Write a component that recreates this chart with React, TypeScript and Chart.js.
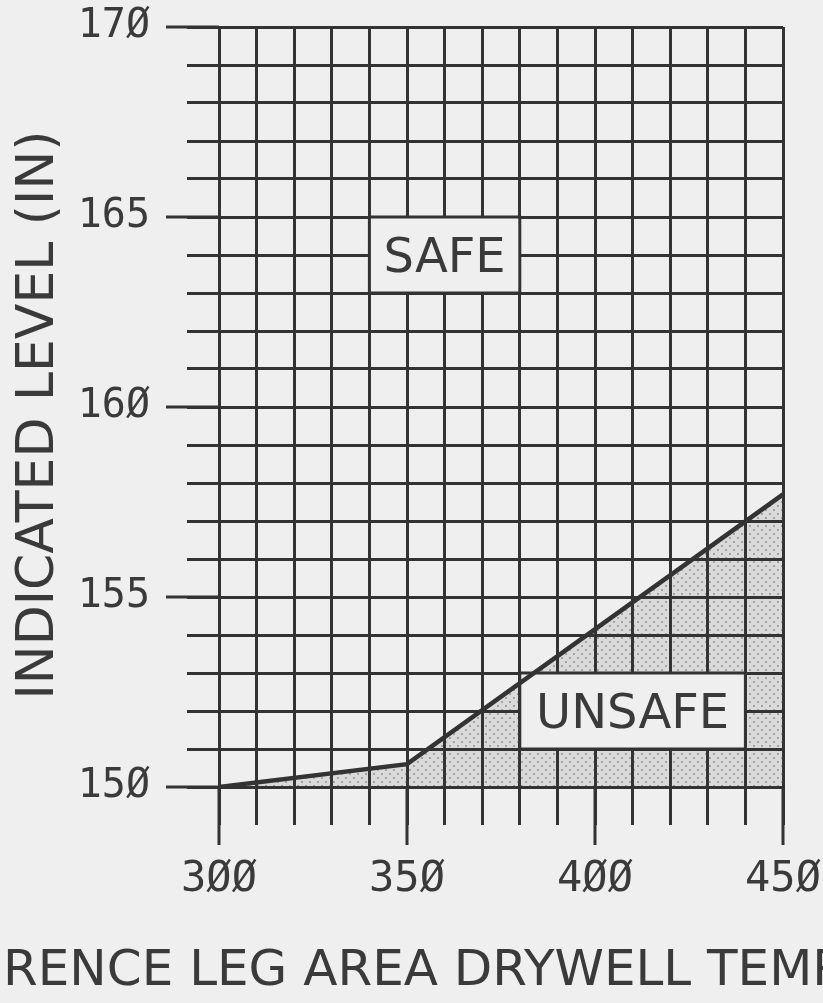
import React, { useEffect, useRef } from 'react';
import { Chart, registerables } from 'chart.js';

Chart.register(...registerables);

// ---- data ----
const temperatures = [300, 350, 450];
const levels = [150, 150.6, 157.7];

const xMin = 300;
const xMax = 450;
const xStep = 10;
const yMin = 150;
const yMax = 170;
const yStep = 1;

const xLabeledTicks = [300, 350, 400, 450];
const yLabeledTicks = [150, 155, 160, 165, 170];

const regionNames = ['SAFE', 'UNSAFE'];
// [xFrom, xTo, yFrom, yTo] in data units
const regionBoxes = [
  [340, 380, 163, 165],
  [380, 440, 151, 153],
];

const yTitle = 'INDICATED LEVEL (IN)';
const xTitle = 'REFERENCE LEG AREA DRYWELL TEMP (°F)';
const xTitleHiddenPrefix = 'REFE';

// ---- styles ----
const INK = '#333333';
const TEXT = '#3a3a3a';
const BG = '#efefef';
const TICK_FONT = "'DejaVu Sans Mono', monospace";
const TITLE_FONT = "'DejaVu Sans', sans-serif";

const fmt = (v: number) => String(v).replace(/0/g, 'Ø');

export default function App() {
  const ref = useRef<HTMLCanvasElement>(null);

  useEffect(() => {
    const canvas = ref.current;
    if (!canvas) return;

    const tile = document.createElement('canvas');
    tile.width = 8;
    tile.height = 8;
    const tctx = tile.getContext('2d')!;
    tctx.fillStyle = '#dadada';
    tctx.fillRect(0, 0, 8, 8);
    tctx.fillStyle = '#8a8a8a';
    [
      [2, 2],
      [6, 6],
    ].forEach(([x, y]) => {
      tctx.beginPath();
      tctx.arc(x, y, 0.9, 0, Math.PI * 2);
      tctx.fill();
    });
    const pattern = canvas.getContext('2d')!.createPattern(tile, 'repeat');

    const decor = {
      id: 'decor',
      beforeDatasetsDraw(chart: any) {
        const { ctx, scales } = chart;
        const xs = scales.x;
        const ys = scales.y;
        ctx.save();
        regionBoxes.forEach((b, i) => {
          const x1 = xs.getPixelForValue(b[0]);
          const x2 = xs.getPixelForValue(b[1]);
          const y1 = ys.getPixelForValue(b[3]);
          const y2 = ys.getPixelForValue(b[2]);
          ctx.fillStyle = BG;
          ctx.fillRect(x1, y1, x2 - x1, y2 - y1);
          ctx.strokeStyle = INK;
          ctx.lineWidth = 3;
          ctx.strokeRect(x1, y1, x2 - x1, y2 - y1);
          ctx.fillStyle = TEXT;
          ctx.font = `48px ${TITLE_FONT}`;
          ctx.textAlign = 'center';
          ctx.textBaseline = 'alphabetic';
          ctx.fillText(regionNames[i], (x1 + x2) / 2, (y1 + y2) / 2 + 17);
        });
        ctx.restore();
      },
      afterDraw(chart: any) {
        const { ctx, scales, chartArea } = chart;
        const xs = scales.x;
        const ys = scales.y;
        ctx.save();
        ctx.strokeStyle = INK;
        ctx.lineWidth = 3;
        ctx.beginPath();
        xLabeledTicks.forEach((v) => {
          const px = xs.getPixelForValue(v);
          ctx.moveTo(px, chartArea.bottom);
          ctx.lineTo(px, chartArea.bottom + 58);
        });
        yLabeledTicks.forEach((v) => {
          const py = ys.getPixelForValue(v);
          ctx.moveTo(chartArea.left, py);
          ctx.lineTo(chartArea.left - 53, py);
        });
        ctx.stroke();

        ctx.fillStyle = TEXT;
        // y title
        ctx.save();
        ctx.translate(34, 415);
        ctx.rotate(-Math.PI / 2);
        ctx.font = `52px ${TITLE_FONT}`;
        ctx.textAlign = 'center';
        ctx.textBaseline = 'alphabetic';
        ctx.fillText(yTitle, 0, 19);
        ctx.restore();

        // x title (clipped by canvas edges as in the reference)
        ctx.font = `50px ${TITLE_FONT}`;
        ctx.textAlign = 'left';
        ctx.textBaseline = 'alphabetic';
        const off = ctx.measureText(xTitleHiddenPrefix).width;
        ctx.fillText(xTitle, 3 - off, 985);
        ctx.restore();
      },
    };

    const chart = new Chart(canvas, {
      type: 'line',
      data: {
        datasets: [
          {
            data: temperatures.map((t, i) => ({ x: t, y: levels[i] })),
            borderColor: INK,
            borderWidth: 4.5,
            pointRadius: 0,
            tension: 0,
            fill: 'start',
            backgroundColor: pattern as any,
          },
        ],
      },
      options: {
        responsive: false,
        animation: false,
        layout: { padding: { top: 27, right: 40, left: 0, bottom: 0 } },
        plugins: {
          legend: { display: false },
          tooltip: { enabled: false },
          filler: { drawTime: 'beforeDraw' } as any,
        },
        scales: {
          x: {
            type: 'linear',
            min: xMin,
            max: xMax,
            ticks: {
              stepSize: xStep,
              autoSkip: false,
              maxRotation: 0,
              color: TEXT,
              padding: 30,
              font: { family: TICK_FONT, size: 42 },
              callback: (v: any) => (xLabeledTicks.includes(Number(v)) ? fmt(Number(v)) : ''),
            },
            grid: { color: INK, lineWidth: 3, tickLength: 38, tickColor: INK, tickWidth: 3 },
            border: { color: INK, width: 3 },
            afterFit: (s: any) => {
              s.height = 216;
              s.paddingLeft = 0;
              s.paddingRight = 0;
              s.paddingTop = 0;
              s.paddingBottom = 0;
            },
          },
          y: {
            type: 'linear',
            min: yMin,
            max: yMax,
            ticks: {
              stepSize: yStep,
              autoSkip: false,
              color: TEXT,
              padding: 37,
              font: { family: TICK_FONT, size: 40 },
              callback: (v: any) => (yLabeledTicks.includes(Number(v)) ? fmt(Number(v)) : ''),
            },
            grid: { color: INK, lineWidth: 3, tickLength: 32, tickColor: INK, tickWidth: 3 },
            border: { color: INK, width: 3 },
            afterFit: (s: any) => {
              s.width = 219;
              s.paddingLeft = 0;
              s.paddingRight = 0;
              s.paddingTop = 0;
              s.paddingBottom = 0;
            },
          },
        },
      },
      plugins: [decor],
    });

    return () => chart.destroy();
  }, []);

  return (
    <div style={{ position: 'fixed', left: 0, top: 0, width: 823, height: 1003, background: BG }}>
      <canvas ref={ref} width={823} height={1003} style={{ display: 'block', background: BG }} />
    </div>
  );
}
